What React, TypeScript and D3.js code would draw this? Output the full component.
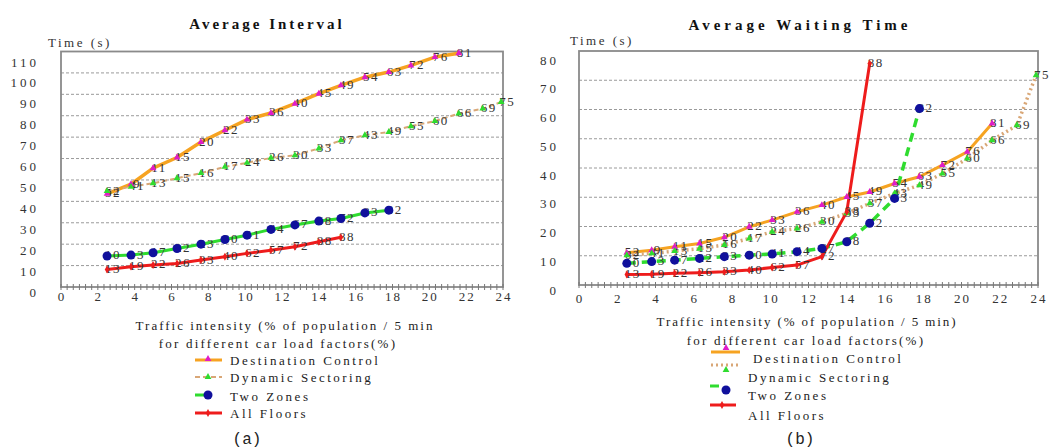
import * as d3 from "d3";
import React from "react";

const W = 1058;
const H = 448;
const serif = "Liberation Serif, Times New Roman, DejaVu Serif, serif";
const mono = "Liberation Mono, Courier New, DejaVu Sans Mono, monospace";

// traffic intensity (% of population / 5 min) of each simulated run
const intensity = [2.5, 3.8, 5.0, 6.3, 7.6, 8.9, 10.1, 11.4, 12.7, 14.0, 15.2, 16.5, 17.8, 19.0, 20.3, 21.6, 22.9, 23.9];

const seriesNames = ["Destination Control", "Dynamic Sectoring", "Two Zones", "All Floors"];

// car load factors (%) printed next to each point
const loadDestination = ["52", "9", "11", "15", "20", "22", "33", "36", "40", "45", "49", "54", "63", "72", "76", "81"];
const loadDynamic = ["62", "41", "13", "15", "16", "17", "24", "26", "30", "33", "37", "43", "49", "55", "60", "66", "69", "75"];
const loadTwoZones = ["10", "13", "17", "22", "23", "30", "41", "44", "67", "68", "72", "83", "82"];
const loadAllFloors = ["13", "19", "22", "26", "33", "40", "62", "57", "72", "88", "88"];

// (a) average interval, seconds
const intervalDestination = [43.5, 48.0, 55.5, 60.5, 67.7, 73.2, 78.2, 81.3, 85.6, 90.3, 94.2, 98.0, 100.4, 103.5, 107.4, 109.2];
const intervalDynamic = [44.8, 46.8, 48.5, 50.8, 53.2, 56.1, 58.0, 60.3, 61.5, 64.7, 68.5, 70.9, 72.4, 75.1, 77.5, 81.0, 83.3, 86.4];
const intervalTwoZones = [14.5, 14.9, 16.0, 18.0, 20.0, 22.2, 24.2, 26.9, 29.0, 30.8, 32.0, 34.6, 35.9];
const intervalAllFloors = [8.2, 9.5, 10.3, 11.0, 12.6, 14.1, 15.7, 17.2, 18.8, 21.1, 23.2];

// (b) average waiting time, seconds
const waitDestination = [11.0, 11.9, 13.1, 14.2, 16.3, 19.9, 22.2, 25.0, 27.3, 30.1, 31.8, 34.7, 37.0, 41.0, 45.5, 55.2];
const waitDynamic = [10.2, 10.8, 11.6, 12.4, 13.7, 15.9, 18.2, 19.3, 21.6, 24.5, 27.9, 31.3, 34.1, 38.1, 43.2, 49.5, 54.6, 71.7];
const waitTwoZones = [7.4, 8.0, 8.5, 9.1, 9.7, 10.2, 10.6, 11.4, 12.5, 14.8, 21.1, 29.6, 60.3];
const waitAllFloors = [3.6, 3.7, 4.0, 4.2, 4.5, 5.1, 6.0, 6.8, 9.7, 25.0, 75.7];

const xTicks = [0, 2, 4, 6, 8, 10, 12, 14, 16, 18, 20, 22, 24];
const intervalTicks = [0, 10, 20, 30, 40, 50, 60, 70, 80, 90, 100, 110];
const waitTicks = [0, 10, 20, 30, 40, 50, 60, 70, 80];

const orange = "#f6a321";
const magenta = "#e01cc8";
const green = "#2fdc2f";
const blue = "#10109c";
const red = "#ee1c1c";
const tan = "#d9a777";

const tri = d3.symbol().type(d3.symbolTriangle).size(20)();
const diamond = d3.symbol().type(d3.symbolDiamond).size(18)();

const Marker = ({ kind, color, cx, cy }) => {
  if (kind === "dot") return <circle cx={cx} cy={cy} r={4.5} fill={color} />;
  return <path d={kind === "tri" ? tri : diamond} transform={`translate(${cx},${cy})`} fill={color} />;
};

const Txt = ({ x, y, children, size = 13, ls = 2, anchor = "start", weight = "normal", fill = "#222", family = serif }) => (
  <text x={x} y={y} textAnchor={anchor} dominantBaseline="central" fill={fill}
    style={{ fontFamily: family, fontSize: size, letterSpacing: ls, fontWeight: weight }}>{children}</text>
);

const Panel = ({ p }) => {
  const x = d3.scaleLinear().domain([0, 24]).range([p.left, p.right]);
  const y = d3.scaleLinear().domain([0, p.yMax]).range([p.bottom, p.top]);
  const yLab = d3.scaleLinear().domain([0, p.yMax]).range(p.labelRange);
  const line = d3.line().x((_, i) => x(intensity[i])).y((d) => y(d));
  const minor = d3.range(0, 73).map((k) => k / 3);

  return (
    <g>
      <Txt x={p.titleX} y={p.titleY} size={15} ls={p.titleLs} anchor="middle" weight="bold" fill="#111">{p.title}</Txt>
      <Txt x={p.timeX} y={p.timeY} size={13} ls={2.5} fill="#333">Time (s)</Txt>

      {p.yTicks.slice(1, -1).map((t) => (
        <line key={t} x1={p.left} x2={p.right} y1={y(t)} y2={y(t)} stroke="#9a9a9a" strokeWidth={1} strokeDasharray="3 2" />
      ))}
      <rect x={p.left} y={p.top} width={p.right - p.left} height={p.bottom - p.top} fill="none" stroke="#8a8a8a" strokeWidth={1.8} />
      {minor.map((m) => (
        <line key={m} x1={x(m)} x2={x(m)} y1={p.bottom - 3} y2={p.bottom + 3} stroke="#777" strokeWidth={1} />
      ))}

      {p.yTicks.map((t) => (
        <Txt key={t} x={p.yLabelX} y={yLab(t)} size={13} ls={3} anchor="end" fill="#333">{t}</Txt>
      ))}
      {xTicks.map((t) => (
        <Txt key={t} x={x(t) + 1} y={p.xLabelY} size={13} ls={2} anchor="middle" fill="#333">{t}</Txt>
      ))}

      {p.series.map((s, i) => (
        <path key={i} d={line(s.values)} fill="none" stroke={s.color} strokeWidth={s.width}
          strokeDasharray={s.dash} strokeLinejoin="round" />
      ))}
      {p.series.map((s, i) =>
        s.values.map((v, j) => (
          <Txt key={`${i}-${j}`} x={x(intensity[j]) + 6} y={y(v) - 1} size={13} ls={1.5} anchor="middle" fill="#333">
            {s.labels[j]}
          </Txt>
        ))
      )}
      {p.series.map((s, i) =>
        s.values.map((v, j) => <Marker key={`${i}-${j}`} kind={s.marker} color={s.markerColor} cx={x(intensity[j])} cy={y(v)} />)
      )}

      {p.axisTitle.map((l, i) => (
        <Txt key={i} x={l.x} y={l.y} size={13} ls={l.ls} anchor="middle" fill="#222">{l.text}</Txt>
      ))}

      {p.series.map((s, i) => {
        const g = p.legend[i];
        return (
          <g key={i}>
            <line x1={g.x1} x2={g.x2} y1={g.ly} y2={g.ly} stroke={s.color} strokeWidth={Math.min(s.width, 3)} strokeDasharray={s.dash} />
            <Marker kind={s.marker} color={s.markerColor} cx={g.mx} cy={g.my} />
            <Txt x={g.tx} y={g.ty} size={13} ls={2.5} fill="#222">{seriesNames[i]}</Txt>
          </g>
        );
      })}
      <Txt x={p.captionX} y={440} size={16} ls={0} anchor="middle" fill="#222" family={mono}>
        {p.caption}
      </Txt>
    </g>
  );
};

const intervalPanel = {
  title: "Average Interval", titleX: 267, titleY: 24, titleLs: 3,
  timeX: 48, timeY: 42,
  left: 61, right: 503, top: 51.5, bottom: 287,
  yMax: 110, yTicks: intervalTicks, labelRange: [292, 62], yLabelX: 39, xLabelY: 296,
  series: [
    { values: intervalDestination, labels: loadDestination, color: orange, width: 3.5, marker: "tri", markerColor: magenta },
    { values: intervalDynamic, labels: loadDynamic, color: tan, width: 2, dash: "5 3", marker: "tri", markerColor: green },
    { values: intervalTwoZones, labels: loadTwoZones, color: green, width: 3, marker: "dot", markerColor: blue },
    { values: intervalAllFloors, labels: loadAllFloors, color: red, width: 3, marker: "cross", markerColor: red },
  ],
  axisTitle: [
    { text: "Traffic intensity (% of population / 5 min", x: 285, y: 325, ls: 2.0 },
    { text: "for different car load factors(%)", x: 278, y: 343, ls: 2.2 },
  ],
  legend: [
    { x1: 195, x2: 222, ly: 360, mx: 208, my: 359, tx: 230, ty: 360 },
    { x1: 195, x2: 222, ly: 377, mx: 208, my: 377, tx: 230, ty: 377 },
    { x1: 195, x2: 208, ly: 395, mx: 208, my: 395, tx: 230, ty: 396 },
    { x1: 195, x2: 222, ly: 413, mx: 208, my: 413, tx: 230, ty: 413 },
  ],
  caption: "(a)", captionX: 247,
};

const waitPanel = {
  title: "Average Waiting Time", titleX: 800, titleY: 25, titleLs: 4,
  timeX: 570, timeY: 40,
  left: 579, right: 1038, top: 51, bottom: 285,
  yMax: 80, yTicks: waitTicks, labelRange: [290, 60], yLabelX: 559, xLabelY: 298,
  series: [
    { values: waitDestination, labels: loadDestination, color: orange, width: 3, marker: "tri", markerColor: magenta },
    { values: waitDynamic, labels: loadDynamic, color: tan, width: 3.5, dash: "2 3", marker: "tri", markerColor: green },
    { values: waitTwoZones, labels: loadTwoZones, color: green, width: 3.5, dash: "9 6", marker: "dot", markerColor: blue },
    { values: waitAllFloors, labels: loadAllFloors, color: red, width: 3, marker: "cross", markerColor: red },
  ],
  axisTitle: [
    { text: "Traffic intensity (% of population / 5 min)", x: 807, y: 321, ls: 1.9 },
    { text: "for different car load factors(%)", x: 806, y: 340, ls: 2.2 },
  ],
  legend: [
    { x1: 711, x2: 740, ly: 352, mx: 726, my: 348, tx: 753, ty: 358 },
    { x1: 711, x2: 740, ly: 365, mx: 726, my: 370, tx: 748, ty: 377 },
    { x1: 710, x2: 724, ly: 386, mx: 726, my: 390, tx: 748, ty: 395 },
    { x1: 710, x2: 736, ly: 405, mx: 722, my: 405, tx: 748, ty: 415 },
  ],
  caption: "(b)", captionX: 800,
};

export default function App() {
  return (
    <svg width={W} height={H} style={{ position: "absolute", left: 0, top: 0, background: "#fff" }}>
      <Panel p={intervalPanel} />
      <Panel p={waitPanel} />
    </svg>
  );
}
